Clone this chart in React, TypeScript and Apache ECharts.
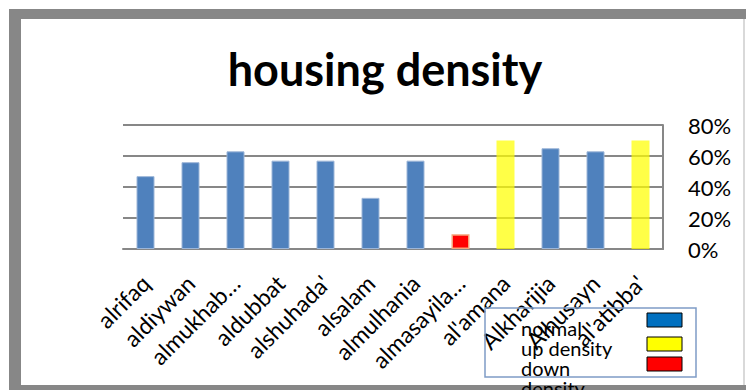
import React, { useEffect, useRef } from "react";
import * as echarts from "echarts";

const categories = [
  "alrifaq",
  "aldiywan",
  "almukhab…",
  "aldubbat",
  "alshuhada'",
  "alsalam",
  "almulhania",
  "almasayila…",
  "al'amana",
  "Alkharijia",
  "Alhusayn",
  "al'atibba'",
];
const values = [47, 56, 63, 57, 57, 33, 57, 9.5, 70, 65, 63, 70];
const status = [
  "normal",
  "normal",
  "normal",
  "normal",
  "normal",
  "normal",
  "normal",
  "down",
  "up density",
  "normal",
  "normal",
  "up density",
];
const yTicks = [0, 20, 40, 60, 80];
const legendNames = ["normal", "up density", "down density"];

const FONT = "Lato, 'Open Sans', sans-serif";

const barStyle: Record<string, any> = {
  normal: { color: "#4F81BD", borderColor: "#9DB6D8", borderWidth: 1 },
  "up density": { color: "rgba(255,255,0,0.72)", borderWidth: 0 },
  down: { color: "#FF0000", borderColor: "#F5A37A", borderWidth: 1.5 },
};
const swatchColors = ["#0070C0", "#FFFF00", "#FF0000"];

export default function App() {
  const ref = useRef<HTMLDivElement>(null);
  useEffect(() => {
    if (!ref.current) return;
    const chart = echarts.init(ref.current, null, { renderer: "svg" });
    const gray = "#878787";
    const legendX = 485;
    const legendY = 308;
    const graphics: any[] = [
      { type: "rect", z: 1, shape: { x: 9, y: 9, width: 737, height: 10 }, style: { fill: gray } },
      { type: "rect", z: 1, shape: { x: 9, y: 9, width: 12, height: 381 }, style: { fill: gray } },
      { type: "rect", z: 1, shape: { x: 9, y: 385, width: 737, height: 5 }, style: { fill: gray } },
      { type: "rect", z: 1, shape: { x: 743, y: 19, width: 2, height: 366 }, style: { fill: "#D9D9D9" } },
      {
        type: "rect",
        z: 5,
        shape: { x: legendX, y: legendY, width: 211, height: 69 },
        style: { fill: "none", stroke: "#7F9CC6", lineWidth: 1.5 },
      },
    ];
    const swatchY = [313, 337, 357];
    legendNames.forEach((name, i) => {
      graphics.push({
        type: "rect",
        z: 6,
        shape: { x: 647, y: swatchY[i], width: 35, height: 14 },
        style: { fill: swatchColors[i], stroke: "#000", lineWidth: 1 },
      });
    });
    const lines = ["normal", "up density", "down", "density"];
    lines.forEach((t, i) => {
      graphics.push({
        type: "text",
        z: 10,
        x: 521,
        y: 328 + i * 20,
        style: {
          text: t,
          fontFamily: FONT,
          fontSize: 20,
          fill: "#000",
          verticalAlign: "middle",
          align: "left",
        },
      });
    });

    chart.setOption({
      animation: false,
      backgroundColor: "#fff",
      title: {
        text: "housing density",
        left: 380,
        top: 41,
        textAlign: "center",
        textStyle: { fontFamily: FONT, fontWeight: "bold", fontSize: 45, color: "#000" },
      },
      grid: { left: 123, right: 83, top: 125, bottom: 141 },
      xAxis: {
        type: "category",
        data: categories,
        axisLine: { show: true, lineStyle: { color: gray, width: 2 } },
        axisTick: { show: false },
        axisLabel: {
          interval: 0,
          rotate: 45,
          margin: 30,
          fontFamily: FONT,
          fontSize: 23,
          color: "#000",
        },
      },
      yAxis: {
        type: "value",
        position: "right",
        min: yTicks[0],
        max: yTicks[yTicks.length - 1],
        interval: 20,
        axisLine: { show: true, lineStyle: { color: gray, width: 2 } },
        axisTick: { show: false },
        splitLine: { show: true, lineStyle: { color: gray, width: 2 } },
        axisLabel: {
          formatter: "{value}%",
          align: "left",
          margin: 25,
          fontFamily: FONT,
          fontSize: 22,
          color: "#000",
        },
      },
      series: [
        {
          type: "bar",
          barWidth: 18,
          data: values.map((v, i) => ({ value: v, itemStyle: barStyle[status[i]] })),
        },
      ],
      graphic: graphics,
    });
    return () => chart.dispose();
  }, []);
  return (
    <div
      ref={ref}
      style={{ position: "absolute", left: 0, top: 0, width: 746, height: 390 }}
    />
  );
}
